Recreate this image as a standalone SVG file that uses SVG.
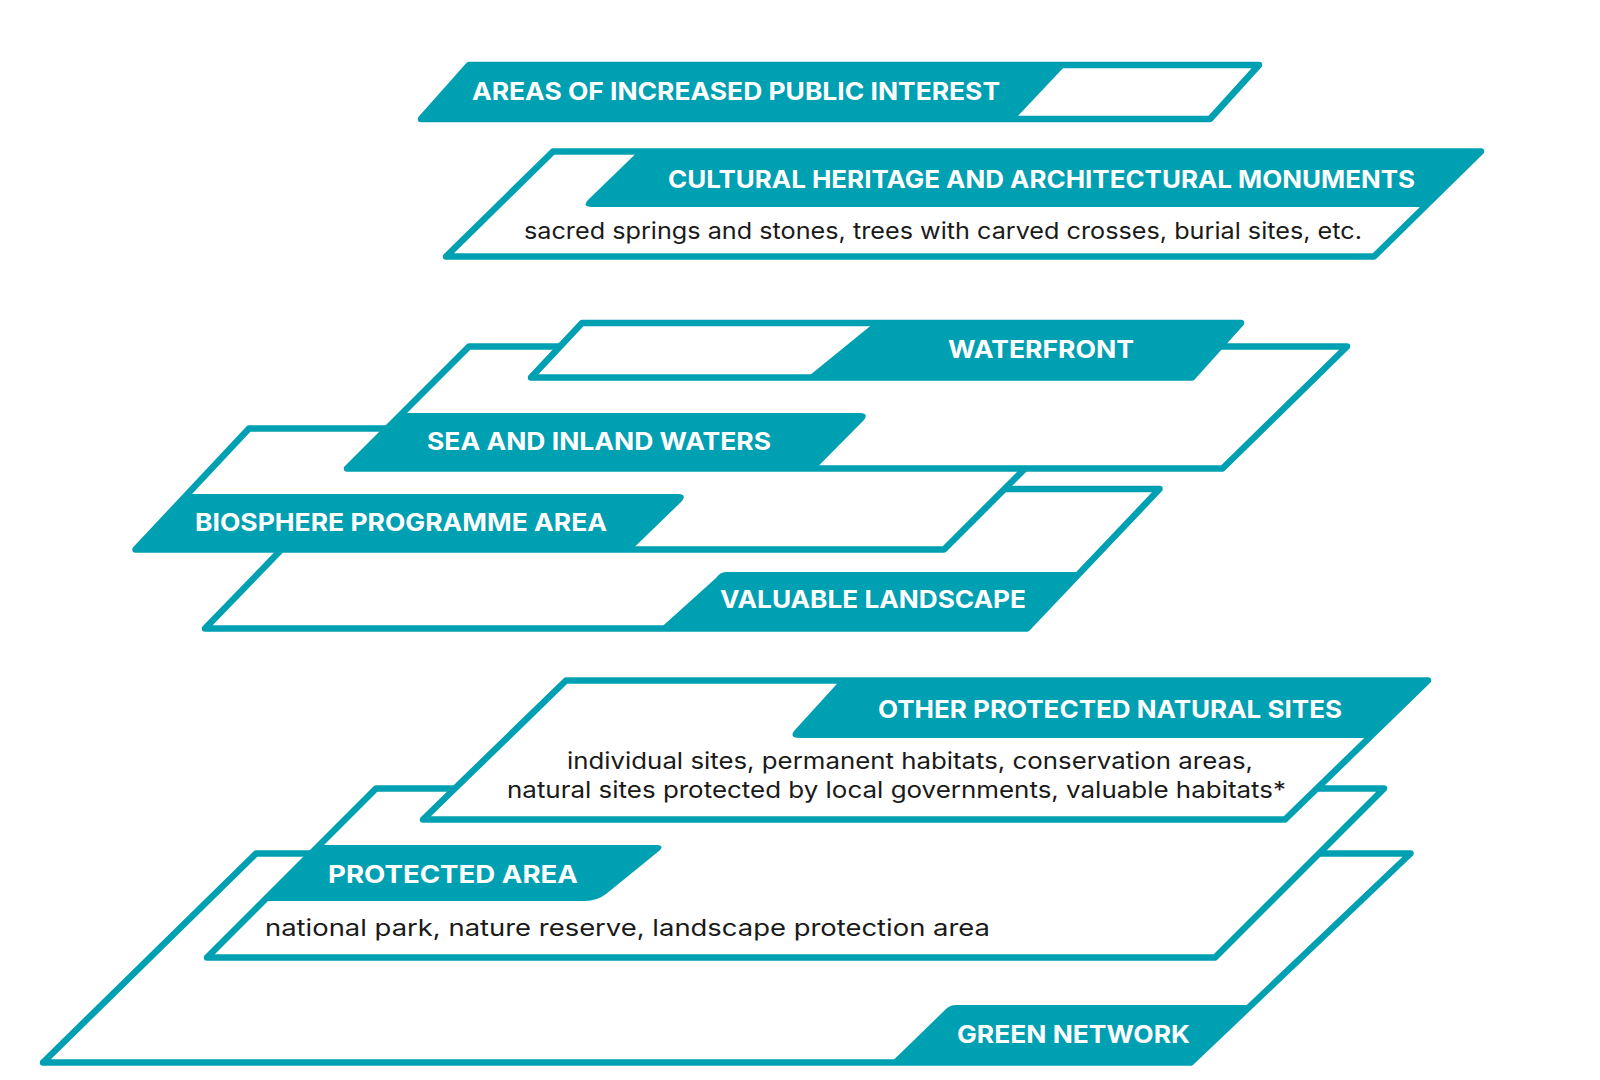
<svg xmlns="http://www.w3.org/2000/svg" width="1600" height="1080" viewBox="0 0 1600 1080">
<style>
.outline{fill:#ffffff;stroke:#00a0b3;stroke-width:6.5;stroke-linejoin:round}
.tab{fill:#00a0b3}
.lbl{font-family:Inter,"Open Sans","Liberation Sans",sans-serif;font-weight:700;font-size:24px;fill:#ffffff}
.desc{font-family:Inter,"Open Sans","Liberation Sans",sans-serif;font-weight:400;font-size:23px;fill:#1a1a1a}
</style>
<rect x="0" y="0" width="1600" height="1080" fill="#ffffff"/>

<g id="areas-of-increased-public-interest">
<polygon class="outline" points="469,65 1259,65 1210,119 421,119"/>
<path class="tab" d="M469,65 L1066,65 L1015,119 L421,119 Z"/>
<text class="lbl" x="472" y="100" textLength="528" lengthAdjust="spacingAndGlyphs">AREAS OF INCREASED PUBLIC INTEREST</text>
</g>

<g id="cultural-heritage">
<polygon class="outline" points="553,151.5 1481,151.5 1374,256.5 446,256.5"/>
<path class="tab" d="M638,151.5 L1481,151.5 L1424,207 L592,207 Q581,207 589,199 Z"/>
<text class="lbl" x="668" y="188" textLength="747" lengthAdjust="spacingAndGlyphs">CULTURAL HERITAGE AND ARCHITECTURAL MONUMENTS</text>
<text class="desc" x="524" y="239" textLength="838" lengthAdjust="spacingAndGlyphs">sacred springs and stones, trees with carved crosses, burial sites, etc.</text>
</g>

<g id="valuable-landscape">
<polygon class="outline" points="340,489 1159.5,489 1027,628.5 205,628.5"/>
<path class="tab" d="M726,572 L1080.5,572 L1027,628.5 L660,628.5 L716,578 Q720,572 726,572 Z"/>
<text class="lbl" x="720" y="608" textLength="306" lengthAdjust="spacingAndGlyphs">VALUABLE LANDSCAPE</text>
</g>

<g id="biosphere-programme-area">
<polygon class="outline" points="249,428.5 1065,428.5 944,549.5 135.5,549.5"/>
<path class="tab" d="M187.5,494 L678,494 Q687,494 682,501 L632,549.5 L135.5,549.5 Z"/>
<text class="lbl" x="195" y="531" textLength="412" lengthAdjust="spacingAndGlyphs">BIOSPHERE PROGRAMME AREA</text>
</g>

<g id="sea-and-inland-waters">
<polygon class="outline" points="469,346.5 1347,346.5 1222.5,468.5 347,468.5"/>
<path class="tab" d="M402,413 L860,413 Q869,413 864,420 L816,468.5 L347,468.5 Z"/>
<text class="lbl" x="427" y="450" textLength="344" lengthAdjust="spacingAndGlyphs">SEA AND INLAND WATERS</text>
</g>

<g id="waterfront">
<polygon class="outline" points="582,323 1241,323 1192,377.5 531,377.5"/>
<path class="tab" d="M874,323 L1241,323 L1192,377.5 L807,377.5 Z"/>
<text class="lbl" x="948" y="358" textLength="186" lengthAdjust="spacingAndGlyphs">WATERFRONT</text>
</g>

<g id="green-network">
<polygon class="outline" points="256,853.5 1410.5,853.5 1191,1062.5 43,1062.5"/>
<path class="tab" d="M956,1005 L1251.6,1005 L1191,1062.5 L891,1062.5 L946,1009 Q950,1005 956,1005 Z"/>
<text class="lbl" x="957" y="1043" textLength="233" lengthAdjust="spacingAndGlyphs">GREEN NETWORK</text>
</g>

<g id="protected-area">
<polygon class="outline" points="376,788.5 1384,788.5 1215,957.5 207,957.5"/>
<path class="tab" d="M319,845 L656,845 Q665,845 659,851 L606,894 Q597,901 585,901 L263,901 Z"/>
<text class="lbl" x="328" y="883" textLength="250" lengthAdjust="spacingAndGlyphs">PROTECTED AREA</text>
<text class="desc" x="265" y="936" textLength="725" lengthAdjust="spacingAndGlyphs">national park, nature reserve, landscape protection area</text>
</g>

<g id="other-protected-natural-sites">
<polygon class="outline" points="566,680.5 1428,680.5 1285,819.5 423,819.5"/>
<path class="tab" d="M840,680.5 L1428,680.5 L1368.6,738 L800,738 Q789,738 794,731 Z"/>
<text class="lbl" x="878" y="718" textLength="464" lengthAdjust="spacingAndGlyphs">OTHER PROTECTED NATURAL SITES</text>
<text class="desc" x="567" y="769" textLength="686" lengthAdjust="spacingAndGlyphs">individual sites, permanent habitats, conservation areas,</text>
<text class="desc" x="507" y="798" textLength="779" lengthAdjust="spacingAndGlyphs">natural sites protected by local governments, valuable habitats*</text>
</g>

<g id="connectors"></g>
</svg>
